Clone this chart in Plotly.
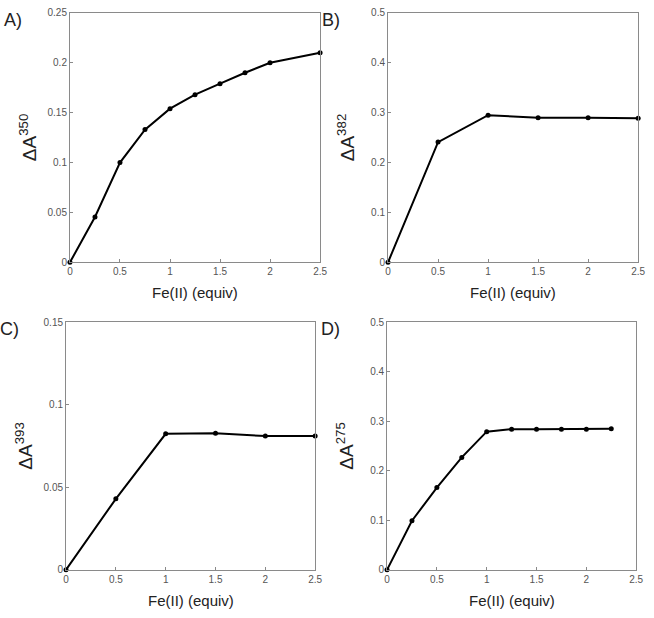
import plotly.graph_objects as go

W, H = 654, 618

# Panel A
a_x = [0, 0.25, 0.5, 0.75, 1.0, 1.25, 1.5, 1.75, 2.0, 2.5]
a_y = [0, 0.0455, 0.100, 0.133, 0.154, 0.168, 0.179, 0.190, 0.200, 0.210]
# Panel B
b_x = [0, 0.5, 1.0, 1.5, 2.0, 2.5]
b_y = [0, 0.241, 0.295, 0.290, 0.290, 0.289]
# Panel C
c_x = [0, 0.5, 1.0, 1.5, 2.0, 2.5]
c_y = [0, 0.043, 0.0824, 0.0828, 0.081, 0.081]
# Panel D
d_x = [0, 0.25, 0.5, 0.75, 1.0, 1.25, 1.5, 1.75, 2.0, 2.25]
d_y = [0, 0.099, 0.166, 0.227, 0.279, 0.284, 0.284, 0.284, 0.284, 0.285]

panels = [
    dict(x=a_x, y=a_y, label="A)", sup="350", yr=[0, 0.25], dy=0.05, box=(68, 322, 8, 262)),
    dict(x=b_x, y=b_y, label="B)", sup="382", yr=[0, 0.5], dy=0.1, box=(391, 645, 8, 262)),
    dict(x=c_x, y=c_y, label="C)", sup="393", yr=[0, 0.15], dy=0.05, box=(64, 317, 323, 575)),
    dict(x=d_x, y=d_y, label="D)", sup="275", yr=[0, 0.5], dy=0.1, box=(390, 643, 323, 575)),
]

FONT = "Liberation Sans, Arial, sans-serif"
fig = go.Figure()
annotations = []
layout = {}
for i, p in enumerate(panels, start=1):
    l, r, t, b = p["box"]
    xa = "xaxis" if i == 1 else f"xaxis{i}"
    ya = "yaxis" if i == 1 else f"yaxis{i}"
    xref = "x" if i == 1 else f"x{i}"
    yref = "y" if i == 1 else f"y{i}"
    fig.add_trace(go.Scatter(
        x=p["x"], y=p["y"], mode="lines+markers", xaxis=xref, yaxis=yref,
        line=dict(color="black", width=2), marker=dict(color="black", size=5),
        cliponaxis=False, showlegend=False, hoverinfo="skip"))
    common = dict(showline=True, mirror=True, linecolor="#8a8a8a", linewidth=1,
                  ticks="inside", ticklen=3, tickcolor="#8a8a8a", showgrid=False,
                  zeroline=False, tickfont=dict(family=FONT, size=10, color="#555555"))
    layout[xa] = dict(domain=[l / W, r / W], range=[0, 2.5], dtick=0.5, tick0=0,
                      anchor=yref, **common)
    layout[ya] = dict(domain=[1 - b / H, 1 - t / H], range=p["yr"], dtick=p["dy"], tick0=0,
                      anchor=xref, **common)
    # x title
    annotations.append(dict(text="Fe(II) (equiv)", xref="paper", yref="paper",
                            x=(l + r) / 2 / W, y=1 - (b + 31) / H, xanchor="center", yanchor="middle",
                            showarrow=False, font=dict(family=FONT, size=15, color="#222222")))
    # y title
    annotations.append(dict(text=f"ΔA<sup>{p['sup']}</sup>", xref="paper", yref="paper",
                            x=(l - 43) / W, y=1 - ((t + b) / 2) / H, xanchor="center", yanchor="middle",
                            textangle=-90, showarrow=False,
                            font=dict(family=FONT, size=19, color="#222222")))
    # panel label
    annotations.append(dict(text=p["label"], xref="paper", yref="paper",
                            x=(l - 69) / W, y=1 - (t + 7) / H, xanchor="left", yanchor="middle",
                            showarrow=False, font=dict(family=FONT, size=18, color="#222222")))

fig.update_layout(width=W, height=H, margin=dict(l=0, r=0, t=0, b=0),
                  paper_bgcolor="white", plot_bgcolor="white",
                  annotations=annotations, **layout)
fig.write_html("out.html", config={"displayModeBar": False},
               post_script="document.body.style.margin='0';document.body.style.padding='0';document.body.style.overflow='hidden';")
